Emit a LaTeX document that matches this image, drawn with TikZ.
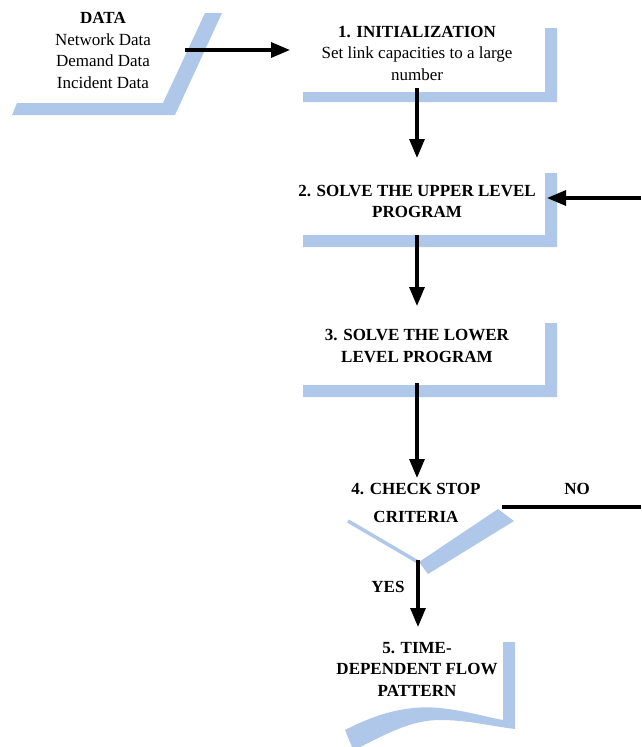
\documentclass[tikz,border=0pt]{standalone}
\usepackage{fontspec}
\setmainfont{Liberation Serif}
\usetikzlibrary{arrows.meta}
\definecolor{band}{RGB}{175,199,232}
\tikzset{
  bandfill/.style={fill=band, draw=none},
  flow/.style={line width=3.2pt, -{Triangle[length=19pt,width=15pt]}},
  plainline/.style={line width=3.2pt},
  txt/.style={align=center, font=\fontsize{17}{21.5}\selectfont, inner sep=0pt},
}
\begin{document}
\begin{tikzpicture}[x=1pt,y=-1pt]
\useasboundingbox (0,0) rectangle (641,747);
% ---- decorative bands
\fill[bandfill] (12,115) -- (17,103) -- (163,103) -- (205,13) -- (222,13) -- (175,115) -- cycle;
\fill[bandfill] (303,92) -- (545,92) -- (545,28) -- (557,28) -- (557,102) -- (303,102) -- cycle;
\fill[bandfill] (303,235) -- (545,235) -- (545,173) -- (557,173) -- (557,247) -- (303,247) -- cycle;
\fill[bandfill] (303,385) -- (545,385) -- (545,323) -- (557,323) -- (557,397) -- (303,397) -- cycle;
\draw[band, line width=3.5pt] (348,521) -- (418,562);
\fill[bandfill] (419,562) -- (498,509) -- (514,521) -- (428,574) -- cycle;
\fill[bandfill] (345,730) .. controls (380,712) and (410,705) .. (440,708)
  .. controls (468,711) and (490,718) .. (503,720) -- (503,642) -- (515,642) -- (515,729)
  .. controls (490,726) and (468,720) .. (440,720)
  .. controls (410,720) and (385,735) .. (360,747) -- (352,747) -- cycle;
% ---- texts
\node[txt] (data) at (103,50.5) {\textbf{DATA}\\Network Data\\Demand Data\\Incident Data};
\node[txt] (init) at (417,53) {\textbf{1. INITIALIZATION}\\Set link capacities to a large\\number};
\node[txt] (upper) at (417,201.5) {\textbf{2. SOLVE THE UPPER LEVEL}\\\textbf{PROGRAM}};
\node[txt] (lower) at (417,346) {\textbf{3. SOLVE THE LOWER}\\\textbf{LEVEL PROGRAM}};
\node[txt] (check) at (416,503) {\textbf{4. CHECK STOP}\\[6pt]\textbf{CRITERIA}};
\node[txt] (result) at (417,669) {\textbf{5. TIME-}\\\textbf{DEPENDENT FLOW}\\\textbf{PATTERN}};
\node[txt] (no) at (577,489) {\textbf{NO}};
\node[txt] (yes) at (388,587) {\textbf{YES}};
% ---- connector ends
\coordinate (dataout) at (185,50);
\coordinate (initin) at (290,50);
\coordinate (initout) at (417,88);
\coordinate (upperin) at (417,158);
\coordinate (upperout) at (417,235);
\coordinate (lowerin) at (417,306);
\coordinate (lowerout) at (417,383);
\coordinate (checkin) at (417,478);
\coordinate (checkout) at (418,560);
\coordinate (resultin) at (418,627);
\coordinate (noout) at (502,507);
\coordinate (noend) at (641,507);
\coordinate (backstart) at (641,198);
\coordinate (upperback) at (547,198);
% ---- connectors
\draw[flow] (dataout) -- (initin);
\draw[flow] (initout) -- (upperin);
\draw[flow] (upperout) -- (lowerin);
\draw[flow] (lowerout) -- (checkin);
\draw[flow] (checkout) -- (resultin);
\draw[plainline] (noout) -- (noend);
\draw[flow] (backstart) -- (upperback);
\end{tikzpicture}
\end{document}
